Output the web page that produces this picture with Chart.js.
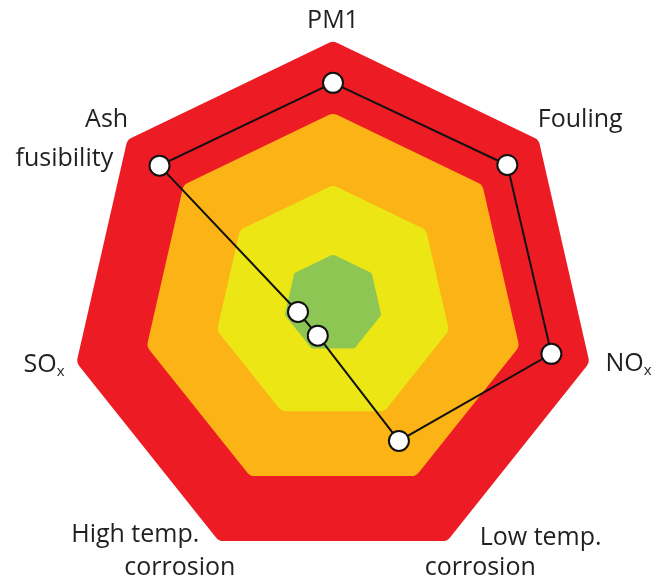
<!DOCTYPE html>
<html>
<head>
<meta charset="utf-8">
<script src="https://cdn.jsdelivr.net/npm/chart.js@4.4.0/dist/chart.umd.min.js"></script>
<style>
  html, body { margin: 0; padding: 0; background: #fff; }
  #wrap { width: 666px; height: 580px; }
</style>
</head>
<body>
<div id="wrap"><canvas id="radarChart" width="666" height="580"></canvas></div>
<script>
// Axis labels (clockwise from top)
const axisLabels = ["PM1", "Fouling", "NOₓ", ["Low temp.", "corrosion"], ["High temp.", "corrosion"], "SOₓ", ["Ash", "fusibility"]];

// Scores (0 = centre, 100 = outer edge of the red band)
const scores = [84.4, 85.1, 85.5, 58, 13.4, 13.7, 84.7];

// Background bands, outer to inner
const bandNames = ["red", "orange", "yellow", "green"];
const bandLevels = [96.6, 69.1, 41.6, 17.2];
const bandColors = ["#ED1C24", "#FCB316", "#EBE614", "#8DC652"];
const bandBorders = [18, 18, 18, 8]; // thick same-colour border gives the rounded corners

// where each axis title sits, relative to the outer vertex of its axis
const labelPlacement = [
  { align: "center", lines: [[0, -14]] },
  { align: "left", lines: [[0, -14]] },
  { align: "left", lines: [[17, 9]] },
  { align: "left", lines: [[33, 5], [-22, 35]] },
  { align: "right", lines: [[-20, 2], [16, 35]] },
  { align: "right", lines: [[-13, 10]] },
  { align: "right", lines: [[0, -14], [-15, 25]] }
];

const mainFont = "25px 'Open Sans'";
const subFont = "15px 'Open Sans'";

// split "NOₓ" into normal text and a subscript x
function pieces(text) {
  return text.split(/(ₓ)/).filter(s => s).map(s =>
    s === "ₓ" ? { str: "x", font: subFont, dy: 4 } : { str: s, font: mainFont, dy: 0 });
}

// draws the axis titles next to the outer corners
const axisTitles = {
  id: "axisTitles",
  afterDatasetsDraw(chart) {
    const scale = chart.scales.r;
    const c = chart.ctx;
    c.save();
    c.fillStyle = "#231F20";
    c.textBaseline = "alphabetic";
    c.textAlign = "left";
    axisLabels.forEach((label, i) => {
      const corner = scale.getPointPosition(i, scale.drawingArea);
      const place = labelPlacement[i];
      [].concat(label).forEach((text, j) => {
        const parts = pieces(text);
        let total = 0;
        parts.forEach(p => { c.font = p.font; p.w = c.measureText(p.str).width; total += p.w; });
        let x = corner.x + place.lines[j][0];
        if (place.align === "center") x -= total / 2;
        if (place.align === "right") x -= total;
        const y = corner.y + place.lines[j][1];
        parts.forEach(p => {
          c.font = p.font;
          c.fillText(p.str, x, y + p.dy);
          x += p.w;
        });
      });
    });
    c.restore();
  }
};

const ctx = document.getElementById("radarChart");

const bandDatasets = bandLevels.map((level, i) => ({
  label: bandNames[i],
  data: axisLabels.map(() => level),
  backgroundColor: bandColors[i],
  borderColor: bandColors[i],
  borderWidth: bandBorders[i],
  borderJoinStyle: "round",
  fill: true,
  pointRadius: 0,
  pointHoverRadius: 0,
  order: 10 - i
}));

new Chart(ctx, {
  type: "radar",
  data: {
    labels: axisLabels,
    datasets: [
      {
        label: "Score",
        data: scores,
        borderColor: "#111",
        borderWidth: 2,
        fill: false,
        pointRadius: 10,
        pointBorderWidth: 2,
        pointBackgroundColor: "#fff",
        pointBorderColor: "#111",
        order: 0
      },
      ...bandDatasets
    ]
  },
  options: {
    responsive: false,
    animation: false,
    layout: { padding: { top: 42, bottom: 14, left: 0, right: 0 } },
    scales: {
      r: {
        min: 0,
        max: 100,
        ticks: { display: false },
        grid: { display: false },
        angleLines: { display: false },
        pointLabels: { display: false }
      }
    },
    plugins: {
      legend: { display: false },
      tooltip: { enabled: false }
    }
  },
  plugins: [axisTitles]
});
</script>
</body>
</html>
